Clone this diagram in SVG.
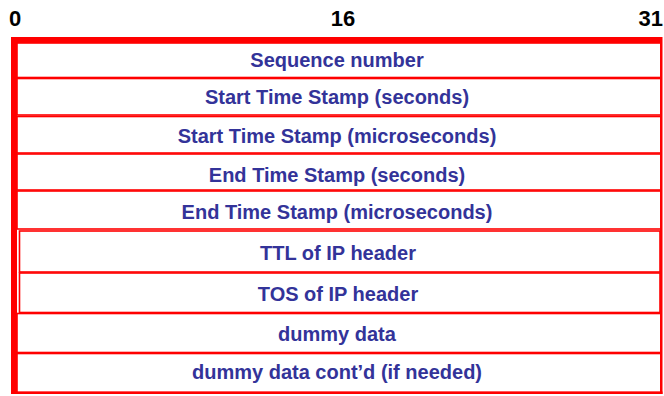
<svg xmlns="http://www.w3.org/2000/svg" width="664" height="396" viewBox="0 0 664 396">
<style>
.row{fill:#ffffff;stroke:#ff0000;stroke-width:1.6}
.inset{fill:#ffffff;stroke:#ff0000;stroke-width:1.6}
.lbl{font-family:"Liberation Sans",Arial,sans-serif;font-weight:bold;font-size:20px;fill:#333399;text-anchor:middle}
.bit{font-family:"Liberation Sans",Arial,sans-serif;font-weight:bold;font-size:22px;fill:#000000}
.frame{fill:#ff0000}
</style>
<rect width="664" height="396" fill="#ffffff"/>
<g id="bits">
<text class="bit" x="9" y="26">0</text>
<text class="bit" x="343" y="26" text-anchor="middle">16</text>
<text class="bit" x="663" y="26" text-anchor="end">31</text>
</g>
<g id="row-seq"><rect class="row" x="17" y="43" width="644" height="34.5"/><text class="lbl" x="337" y="67">Sequence number</text></g>
<g id="row-start-sec"><rect class="row" x="17" y="78.5" width="644" height="36.5"/><text class="lbl" x="337" y="104.3">Start Time Stamp (seconds)</text></g>
<g id="row-start-usec"><rect class="row" x="17" y="116.5" width="644" height="36.5"/><text class="lbl" x="337" y="142.5">Start Time Stamp (microseconds)</text></g>
<g id="row-end-sec"><rect class="row" x="17" y="154" width="644" height="36"/><text class="lbl" x="337" y="181.5">End Time Stamp (seconds)</text></g>
<g id="row-end-usec"><rect class="row" x="17" y="191" width="644" height="38"/><text class="lbl" x="337" y="218.5">End Time Stamp (microseconds)</text></g>
<g id="row-ttl"><rect class="inset" x="19.5" y="231" width="640.5" height="41"/><text class="lbl" x="338" y="260">TTL of IP header</text></g>
<g id="row-tos"><rect class="inset" x="19.5" y="273" width="640.5" height="39.5"/><text class="lbl" x="338" y="301">TOS of IP header</text></g>
<g id="row-dummy"><rect class="row" x="17" y="313.5" width="644" height="39"/><text class="lbl" x="337" y="340.5">dummy data</text></g>
<g id="row-dummy2"><rect class="row" x="17" y="353.5" width="644" height="39"/><text class="lbl" x="337" y="379">dummy data cont’d (if needed)</text></g>
<g id="frame">
<rect class="frame" x="11" y="37" width="6" height="357"/>
<rect class="frame" x="11" y="37" width="651" height="6"/>
<rect class="frame" x="660" y="37" width="2.5" height="357"/>
<rect class="frame" x="11" y="391.5" width="651.5" height="2.5"/>
</g>
<g id="connectors"></g>
</svg>
